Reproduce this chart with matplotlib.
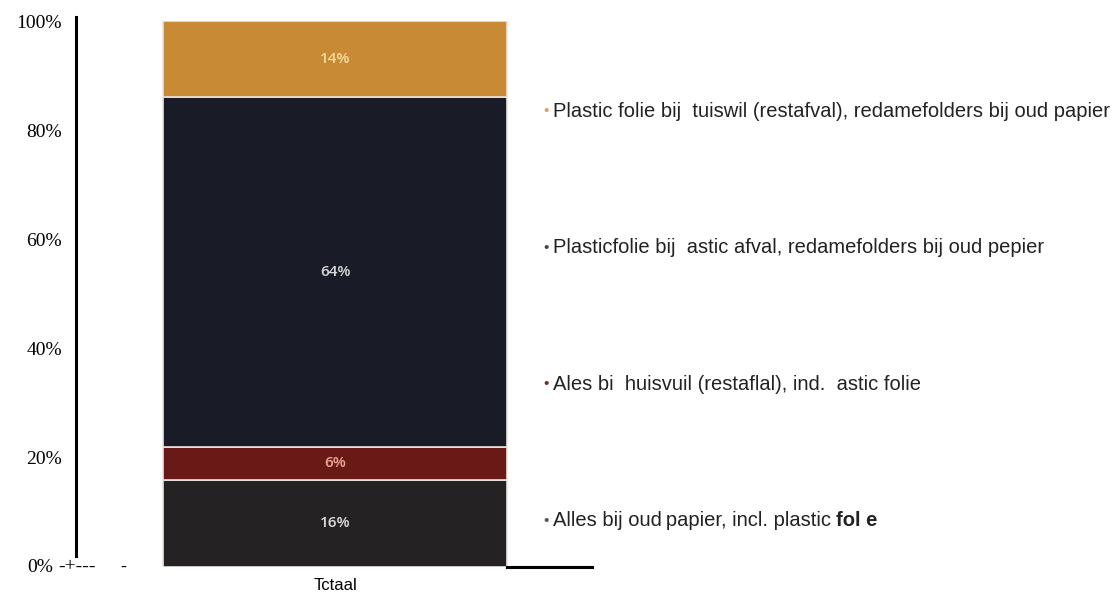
import numpy as np
import matplotlib
matplotlib.use("Agg")
import matplotlib.pyplot as plt

# data
categories = ["Tctaal"]
shares = [16, 6, 64, 14]
value_labels = ["16%", "6%", "64%", "14%"]
legend_labels = [
    "Alles bij oud\u2009papier, incl. plastic ",
    "Ales bi  huisvuil (restaflal), ind.  astic folie",
    "Plasticfolie bij  astic afval, redamefolders bij oud pepier",
    "Plastic folie bij  tuiswil (restafval), redamefolders bij oud papier",
]
yticks = [0, 20, 40, 60, 80, 100]
ytick_labels = ["", "20%", "40%", "60%", "80%", "100%"]

seg_colors = ["#242222", "#6a1a16", "#191b27", "#c98a35"]
text_colors = ["#dcdcdc", "#eaa898", "#d8d8d8", "#f3dc9c"]
bullet_colors = ["#555555", "#7a2a24", "#444450", "#d9a060"]

fig = plt.figure(figsize=(11.15, 5.97), dpi=100)
ax = fig.add_axes([76 / 1115, 30 / 597, (592 - 76) / 1115, 546 / 597])

x = np.arange(len(categories))
bottom = 0
for i, v in enumerate(shares):
    ax.bar(x, v, width=1.0, bottom=bottom, color=seg_colors[i],
           edgecolor="#ece4de", linewidth=1.2)
    ax.text(x[0], bottom + v / 2, value_labels[i], ha="center", va="center",
            color=text_colors[i], fontsize=11, fontweight="semibold",
            family="Open Sans")
    bottom += v

ax.set_ylim(0, 100)
ax.set_xlim(-0.753, 0.747)
ax.set_yticks(yticks)
ax.set_yticklabels(ytick_labels, family="Liberation Serif", fontsize=14)
ax.set_xticks(x)
ax.set_xticklabels(categories, family="Liberation Sans", fontsize=12)
ax.tick_params(axis="y", length=0, pad=10)
ax.tick_params(axis="x", length=0, pad=8)

for s in ["top", "right"]:
    ax.spines[s].set_visible(False)
ax.spines["left"].set_linewidth(2.2)
ax.spines["left"].set_bounds(2, 100.8)
ax.spines["bottom"].set_linewidth(2.2)
ax.spines["bottom"].set_bounds(0.5, 0.747)

# 0% label with the scan artefact next to it
ax.text(-0.895, 0, "0%", ha="left", va="center", fontsize=14,
        family="Liberation Serif", clip_on=False)
ax.text(-0.805, 0, "-+---", ha="left", va="center", fontsize=14,
        family="Liberation Serif", clip_on=False)
ax.text(-0.625, 0, "-", ha="left", va="center", fontsize=13,
        family="Liberation Serif", clip_on=False)

# legend as bullet text on the right
for i, lab in enumerate(legend_labels):
    yy = 8.5 + 25 * i
    ax.text(0.605, yy, "\u2022", ha="left", va="center", color=bullet_colors[i],
            fontsize=11, family="Liberation Sans", clip_on=False)
    t = ax.text(0.633, yy, lab, ha="left", va="center", color="#222222",
                fontsize=14.5, family="Liberation Sans", clip_on=False)
    if i == 0:
        ax.annotate("fol e", xy=(1, 0.5), xycoords=t, ha="left", va="center",
                    fontsize=14.5, fontweight="bold", family="Liberation Sans",
                    color="#222222", annotation_clip=False)

fig.savefig("out.png", dpi=100)
